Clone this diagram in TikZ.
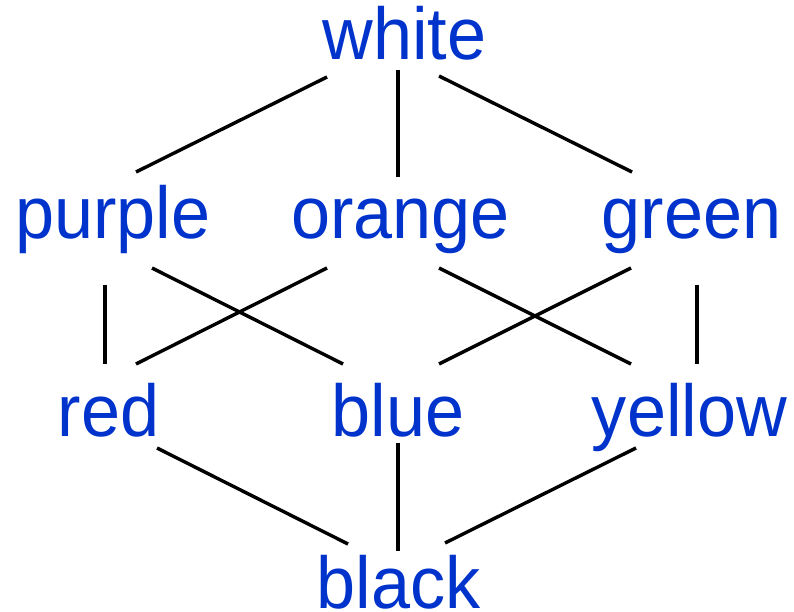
\documentclass[tikz,border=0pt]{standalone}
\usepackage{fontspec}
\setmainfont{Liberation Sans}
\definecolor{lbl}{RGB}{0,51,204}
\newcommand{\narrowtext}[1]{\scalebox{0.955}[1]{#1}}
\begin{document}
\begin{tikzpicture}[x=1pt,y=-1pt,
  lab/.style={anchor=base,inner sep=0pt,text=lbl,font=\fontsize{73.5}{80}\selectfont},
  edge/.style={line width=3.4pt,black}]
\useasboundingbox (0,0) rectangle (794,612);
\node[lab] (white)  at (404.5,60) {\narrowtext{white}};
\node[lab] (purple) at (113,238) {\narrowtext{purple}};
\node[lab] (orange) at (400.5,238) {\narrowtext{orange}};
\node[lab] (green)  at (691.5,238) {\narrowtext{green}};
\node[lab] (red)    at (108.5,436) {\narrowtext{red}};
\node[lab] (blue)   at (398,436) {\narrowtext{blue}};
\node[lab] (yellow) at (689.5,436) {\narrowtext{yellow}};
\node[lab] (black)  at (398.5,608) {\narrowtext{black}};
\draw[edge] ([shift={(-77.5,17)}]white.base) -- ([shift={(23,-66)}]purple.base);
\draw[edge] ([shift={(-6.5,10)}]white.base) -- ([shift={(-2.5,-61)}]orange.base);
\draw[edge] ([shift={(34.5,16)}]white.base) -- ([shift={(-59.5,-66)}]green.base);
\draw[edge] ([shift={(-8,47)}]purple.base) -- ([shift={(-3.5,-72)}]red.base);
\draw[edge] ([shift={(39,30)}]purple.base) -- ([shift={(-55,-72)}]blue.base);
\draw[edge] ([shift={(-73.5,30)}]orange.base) -- ([shift={(27.5,-72)}]red.base);
\draw[edge] ([shift={(38.5,30)}]orange.base) -- ([shift={(-58.5,-72)}]yellow.base);
\draw[edge] ([shift={(-60.5,30)}]green.base) -- ([shift={(41,-72)}]blue.base);
\draw[edge] ([shift={(5.5,47)}]green.base) -- ([shift={(7.5,-72)}]yellow.base);
\draw[edge] ([shift={(48.5,12)}]red.base) -- ([shift={(-50.5,-64)}]black.base);
\draw[edge] ([shift={(0,7)}]blue.base) -- ([shift={(-0.5,-57)}]black.base);
\draw[edge] ([shift={(-53.5,12)}]yellow.base) -- ([shift={(46.5,-65)}]black.base);
\end{tikzpicture}
\end{document}
